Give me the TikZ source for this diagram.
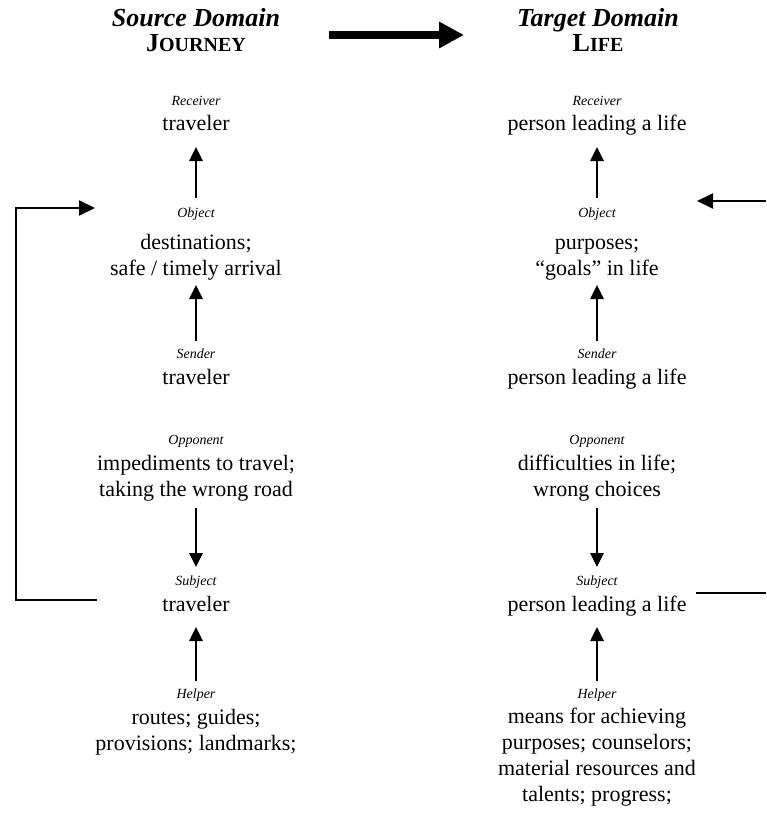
\documentclass[tikz,border=0pt]{standalone}
\usepackage{fontspec}
\setmainfont{Liberation Serif}
\usetikzlibrary{arrows.meta}

\tikzset{
  role/.style={font=\fontsize{14}{16}\selectfont\itshape, inner sep=0pt, anchor=base},
  filler/.style={font=\fontsize{22}{25.7}\selectfont, align=center, inner sep=0pt, anchor=base},
  head/.style={font=\fontsize{26}{28}\selectfont\bfseries, inner sep=0pt, anchor=base},
  link/.style={line width=2.6pt, -{Triangle[length=14pt,width=13pt]}},
  loop/.style={line width=2pt, -{Triangle[length=16pt,width=15pt]}},
  plain/.style={line width=2pt},
  bigarrow/.style={line width=8pt, -{Triangle[length=25pt,width=25pt]}}
}

\begin{document}
\begin{tikzpicture}[x=1pt,y=-1pt]
\useasboundingbox (0,0) rectangle (766,832);

% headings
\node[head] (srcT) at (196,27) {\itshape Source Domain};
\node[head] (srcN) at (196,52) {J\fontsize{20}{22}\selectfont OURNEY};
\node[head] (tgtT) at (598,27) {\itshape Target Domain};
\node[head] (tgtN) at (598,52) {L\fontsize{20}{22}\selectfont IFE};
\coordinate (mapA) at (329,35);
\coordinate (mapB) at (464,35);
\draw[bigarrow] (mapA) -- (mapB);

% source column (multi-line nodes sit on the baseline of their last line)
\node[role]   (sRecL) at (196,106) {Receiver};
\node[filler] (sRec)  at (196,131) {traveler};
\node[role]   (sObjL) at (196,217) {Object};
\node[filler] (sObj)  at (196,275) {destinations;\\safe / timely arrival};
\node[role]   (sSenL) at (196,358) {Sender};
\node[filler] (sSen)  at (196,384) {traveler};
\node[role]   (sOppL) at (196,444) {Opponent};
\node[filler] (sOpp)  at (196,496) {impediments to travel;\\taking the wrong road};
\node[role]   (sSubL) at (196,585) {Subject};
\node[filler] (sSub)  at (196,611) {traveler};
\node[role]   (sHelL) at (196,698) {Helper};
\node[filler] (sHel)  at (196,750) {routes; guides;\\provisions; landmarks;};

\coordinate (sA1) at (196,198); \coordinate (sA1t) at (196,147);
\coordinate (sA2) at (196,341); \coordinate (sA2t) at (196,285);
\coordinate (sA3) at (196,508); \coordinate (sA3t) at (196,567);
\coordinate (sA4) at (196,681); \coordinate (sA4t) at (196,627);
\draw[link] (sA1) -- (sA1t);
\draw[link] (sA2) -- (sA2t);
\draw[link] (sA3) -- (sA3t);
\draw[link] (sA4) -- (sA4t);

% target column
\node[role]   (tRecL) at (597,106) {Receiver};
\node[filler] (tRec)  at (597,131) {person leading a life};
\node[role]   (tObjL) at (597,217) {Object};
\node[filler] (tObj)  at (597,275) {purposes;\\“goals” in life};
\node[role]   (tSenL) at (597,358) {Sender};
\node[filler] (tSen)  at (597,384) {person leading a life};
\node[role]   (tOppL) at (597,444) {Opponent};
\node[filler] (tOpp)  at (597,496) {difficulties in life;\\wrong choices};
\node[role]   (tSubL) at (597,585) {Subject};
\node[filler] (tSub)  at (597,611) {person leading a life};
\node[role]   (tHelL) at (597,698) {Helper};
\node[filler] (tHel)  at (597,801) {means for achieving\\purposes; counselors;\\material resources and\\talents; progress;};

\coordinate (tA1) at (597,198); \coordinate (tA1t) at (597,147);
\coordinate (tA2) at (597,341); \coordinate (tA2t) at (597,285);
\coordinate (tA3) at (597,508); \coordinate (tA3t) at (597,567);
\coordinate (tA4) at (597,681); \coordinate (tA4t) at (597,627);
\draw[link] (tA1) -- (tA1t);
\draw[link] (tA2) -- (tA2t);
\draw[link] (tA3) -- (tA3t);
\draw[link] (tA4) -- (tA4t);

% feedback loops from subject back to object
\coordinate (sLoopA) at (97,600);
\coordinate (sLoopB) at (95,208);
\draw[loop] (sLoopA) -- (16,600) -- (16,208) -- (sLoopB);

\coordinate (tLoopA) at (696,593);
\coordinate (tLoopE) at (766,593);
\coordinate (tLoopF) at (766,201);
\coordinate (tLoopB) at (697,201);
\draw[plain] (tLoopA) -- (tLoopE);
\draw[loop] (tLoopF) -- (tLoopB);
\end{tikzpicture}
\end{document}
